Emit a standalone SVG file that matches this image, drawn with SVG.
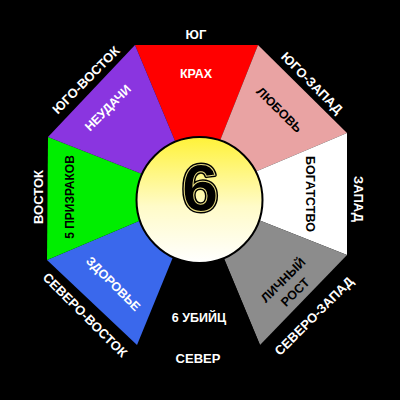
<svg xmlns="http://www.w3.org/2000/svg" width="400" height="400" viewBox="0 0 400 400">
<defs>
<linearGradient id="ball" x1="0" y1="0" x2="0" y2="1">
<stop offset="0" stop-color="#fff238"/>
<stop offset="0.55" stop-color="#fffbc8"/>
<stop offset="1" stop-color="#ffffff"/>
</linearGradient>
<style>
text{font-family:"Liberation Sans",Arial,sans-serif;font-weight:bold;text-anchor:middle;dominant-baseline:central}
.w{fill:#ffffff}
.b{fill:#000000}
.o{font-size:13px}
.i{font-size:12.5px}
</style>
</defs>
<rect x="0" y="0" width="400" height="400" fill="#000000"/>
<g id="south">
<polygon points="135,45 258,45 198,196" fill="#ff0000"/>
<text class="w o" x="196" y="34">ЮГ</text>
<text class="w i" x="196" y="74">КРАХ</text>
</g>
<g id="southwest">
<polygon points="258,45 347,133 198,196" fill="#e9a3a3"/>
<text class="w o" transform="translate(312,83) rotate(45)">ЮГО-ЗАПАД</text>
<text class="b i" transform="translate(279,110) rotate(45)">ЛЮБОВЬ</text>
</g>
<g id="west">
<polygon points="347,133 347,255 198,196" fill="#ffffff"/>
<text class="w o" transform="translate(358,199) rotate(90)">ЗАПАД</text>
<text class="b i" transform="translate(310,194) rotate(90)">БОГАТСТВО</text>
</g>
<g id="northwest">
<polygon points="347,255 260,345 198,196" fill="#8c8c8c"/>
<text class="w o" transform="translate(314,316) rotate(-45)">СЕВЕРО-ЗАПАД</text>
<g transform="translate(289,286) rotate(-45)">
<text class="b i" x="0" y="-8">ЛИЧНЫЙ</text>
<text class="b i" x="0" y="9">РОСТ</text>
</g>
</g>
<g id="north">
<polygon points="260,345 137,345 198,196" fill="#000000"/>
<text class="w o" x="198" y="358">СЕВЕР</text>
<text class="w i" x="199" y="318">6 УБИЙЦ</text>
</g>
<g id="northeast">
<polygon points="137,345 47,260 198,196" fill="#3a68ec"/>
<text class="w o" transform="translate(85,315) rotate(45)">СЕВЕРО-ВОСТОК</text>
<text class="w i" transform="translate(113,284) rotate(45)">ЗДОРОВЬЕ</text>
</g>
<g id="east">
<polygon points="47,260 48,137 198,196" fill="#00ee00"/>
<text class="w o" transform="translate(38,197) rotate(-90)">ВОСТОК</text>
<text class="b" style="font-size:12px" transform="translate(70,197) rotate(-90)">5 ПРИЗРАКОВ</text>
</g>
<g id="southeast">
<polygon points="48,137 135,45 198,196" fill="#8a35e0"/>
<text class="w o" transform="translate(86,80) rotate(-45)">ЮГО-ВОСТОК</text>
<text class="w i" transform="translate(108,108) rotate(-45)">НЕУДАЧИ</text>
</g>
<g id="center">
<circle cx="199.5" cy="200" r="63" fill="url(#ball)" stroke="#000000" stroke-width="2"/>
<text x="200" y="188" style="font-size:66px;fill:#000000;stroke:#000000;stroke-width:4;stroke-linejoin:round">6</text>
<text x="200" y="188" style="font-size:66px;fill:none;stroke:#e8dc80;stroke-width:1">6</text>
</g>
</svg>
